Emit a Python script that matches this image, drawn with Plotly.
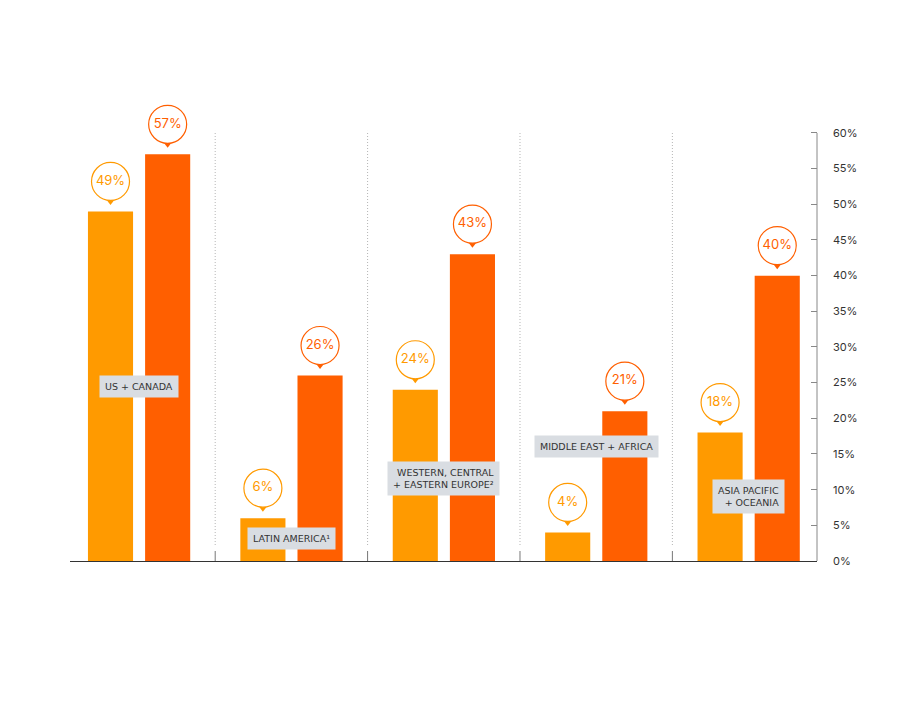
import plotly.graph_objects as go

categories = ["US + CANADA", "LATIN AMERICA", "WESTERN, CENTRAL + EASTERN EUROPE",
              "MIDDLE EAST + AFRICA", "ASIA PACIFIC + OCEANIA"]
series_a = [49, 6, 24, 4, 18]      # orange
series_b = [57, 26, 43, 21, 40]    # red-orange
label_texts = ["US + CANADA", "LATIN AMERICA¹", "WESTERN, CENTRAL<br>+ EASTERN EUROPE²",
               "MIDDLE EAST + AFRICA", "ASIA PACIFIC<br>+ OCEANIA"]
label_y = [24.5, 3.2, 11.6, 16.0, 9.1]
label_align = ["center", "center", "right", "center", "right"]
y_ticks = list(range(0, 61, 5))

COL_A = "#FF9A00"
COL_B = "#FF5F00"

# page body has an 8px margin, so the figure sits at (8, 8)
OFF = 8
W, H = 910, 704
AX_LEFT, AX_RIGHT, AX_BOTTOM, AX_TOP60 = 70, 817, 561, 133
TICK_MAX = 60
ppu = (AX_BOTTOM - AX_TOP60) / TICK_MAX   # pixels per percent
Y_MAX = 67
top_px = AX_BOTTOM - Y_MAX * ppu
M_L = AX_LEFT - OFF
M_R = (W + OFF) - AX_RIGHT
M_T = top_px - OFF
M_B = (H + OFF) - AX_BOTTOM
px = 1 / ppu  # data units per pixel

x_idx = list(range(len(categories)))
BAR_W = 0.296
OFF_A, OFF_B = -0.335, 0.04

fig = go.Figure()
fig.add_trace(go.Bar(x=x_idx, y=series_a, width=BAR_W, offset=OFF_A,
                     marker=dict(color=COL_A, line=dict(width=0)), hoverinfo="skip"))
fig.add_trace(go.Bar(x=x_idx, y=series_b, width=BAR_W, offset=OFF_B,
                     marker=dict(color=COL_B, line=dict(width=0)), hoverinfo="skip"))

centers_a = [i + OFF_A + BAR_W / 2 for i in x_idx]
centers_b = [i + OFF_B + BAR_W / 2 for i in x_idx]

for cx, vals, col in [(centers_a, series_a, COL_A), (centers_b, series_b, COL_B)]:
    fig.add_trace(go.Scatter(x=cx, y=[v + 11.5 * px for v in vals], mode="markers",
                             marker=dict(symbol="triangle-down", size=10, color=col, line=dict(width=0)),
                             cliponaxis=False, hoverinfo="skip"))
    fig.add_trace(go.Scatter(x=cx, y=[v + 30 * px for v in vals], mode="markers+text",
                             marker=dict(symbol="circle", size=38, color="white",
                                         line=dict(color=col, width=1.2)),
                             text=[f"{v}%" for v in vals], textposition="middle center",
                             textfont=dict(family="Inter", size=13, color=col),
                             cliponaxis=False, hoverinfo="skip"))

shapes = []
for i in range(len(categories) - 1):
    xm = i + 0.5
    shapes.append(dict(type="line", xref="x", yref="y", x0=xm, x1=xm,
                       y0=16 * px, y1=TICK_MAX + 2 * px,
                       line=dict(color="#B5B5B5", width=1, dash="1px,2px")))
    shapes.append(dict(type="line", xref="x", yref="y", x0=xm, x1=xm,
                       y0=0, y1=10 * px,
                       line=dict(color="#777777", width=1)))
# right-hand value axis line (0..60%)
shapes.append(dict(type="line", xref="paper", yref="y", x0=1, x1=1, y0=0, y1=TICK_MAX,
                   line=dict(color="#888888", width=1)))

annotations = []
for i, (t, ly, al) in enumerate(zip(label_texts, label_y, label_align)):
    annotations.append(dict(x=i, y=ly, xref="x", yref="y", text=t, showarrow=False,
                            align=al, bgcolor="#D9DDE2", borderpad=5,
                            font=dict(family="DejaVu Sans", size=9.5, color="#333333")))

fig.update_layout(
    width=W, height=H,
    margin=dict(l=M_L, r=M_R, t=M_T, b=M_B),
    paper_bgcolor="white", plot_bgcolor="white",
    showlegend=False, barmode="overlay",
    xaxis=dict(range=[-0.4528, 4.449], showticklabels=False, showgrid=False, zeroline=False,
               showline=True, linecolor="#333333", linewidth=1.2, ticks=""),
    yaxis=dict(range=[0, Y_MAX], side="right", tickvals=y_ticks,
               ticktext=[f"{v}%" for v in y_ticks], ticks="inside", ticklen=6,
               tickcolor="#888888", showline=False,
               showgrid=False, zeroline=False, ticklabelstandoff=15,
               tickfont=dict(family="Inter", size=11, color="#333333")),
    shapes=shapes, annotations=annotations,
)

fig.write_html("out.html")
